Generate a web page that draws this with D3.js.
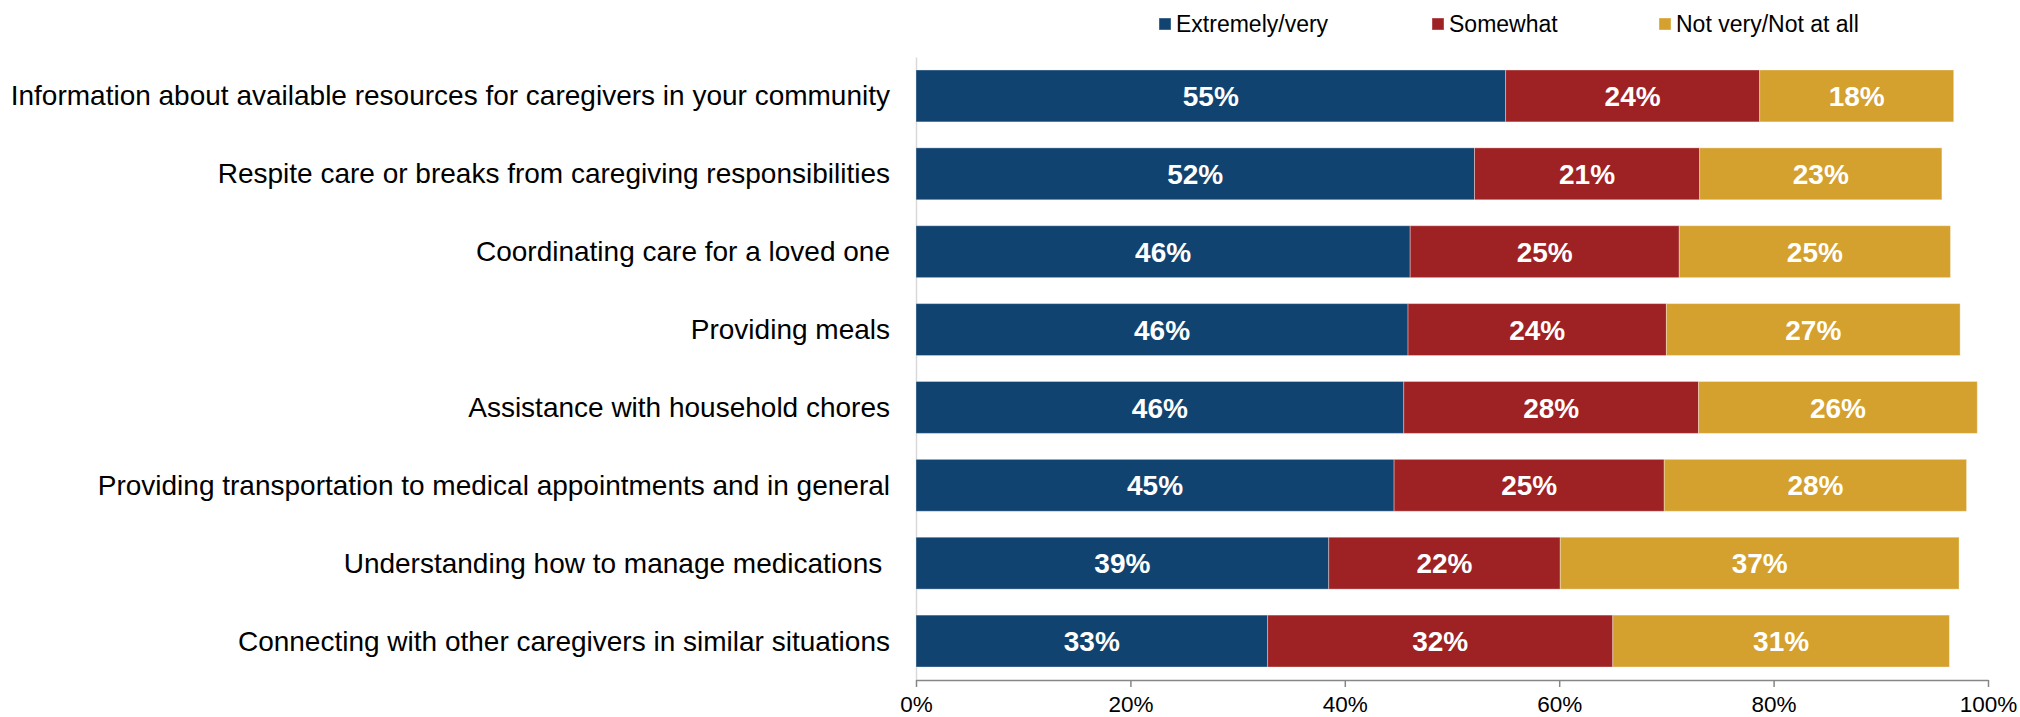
<!DOCTYPE html>
<html>
<head>
<meta charset="utf-8">
<script src="https://cdn.jsdelivr.net/npm/d3@7"></script>
<style>
  html, body { margin: 0; padding: 0; background: #fff; }
  svg { display: block; }
  text { font-family: "Liberation Sans", Arial, sans-serif; }
</style>
</head>
<body>
<svg id="chart" width="2020" height="717"></svg>
<script>
const categories = [
  "Information about available resources for caregivers in your community",
  "Respite care or breaks from caregiving responsibilities",
  "Coordinating care for a loved one",
  "Providing meals",
  "Assistance with household chores",
  "Providing transportation to medical appointments and in general",
  "Understanding how to manage medications ",
  "Connecting with other caregivers in similar situations"
];
const seriesNames = ["Extremely/very", "Somewhat", "Not very/Not at all"];
const extremelyVery = [55.0, 52.1, 46.1, 45.9, 45.5, 44.6, 38.5, 32.8];
const somewhat      = [23.7, 21.0, 25.1, 24.1, 27.5, 25.2, 21.6, 32.2];
const notVery       = [18.1, 22.6, 25.3, 27.4, 26.0, 28.2, 37.2, 31.4];
const tickValues = [0, 20, 40, 60, 80, 100];
const colors = ["#114371", "#9e2123", "#d4a02e"];

const svg = d3.select("#chart");
const x = d3.scaleLinear().domain([0, 100]).range([916, 1988]);
const y = d3.scaleBand().domain(categories).range([57, 680])
  .paddingInner(1/3).paddingOuter(1/6);

const rows = categories.map((c, i) => ({
  cat: c,
  "Extremely/very": extremelyVery[i],
  "Somewhat": somewhat[i],
  "Not very/Not at all": notVery[i]
}));
const stacked = d3.stack().keys(seriesNames)(rows);

// left axis line + category labels
const yAxis = svg.append("g")
  .attr("transform", `translate(${x(0)},0)`)
  .call(d3.axisLeft(y).tickSize(0).tickPadding(26));
yAxis.select(".domain").attr("stroke", "#d9d9d9").attr("stroke-width", 1.5);
yAxis.selectAll("text")
  .attr("font-size", 28).attr("fill", "#000")
  .attr("font-family", "'Liberation Sans', Arial, sans-serif")
  .style("white-space", "pre")
  .attr("dy", "0.34em");

// bars
const groups = svg.append("g").selectAll("g").data(stacked).join("g")
  .attr("fill", (d, i) => colors[i]);
groups.selectAll("rect").data(d => d).join("rect")
  .attr("x", d => x(d[0]))
  .attr("y", d => y(d.data.cat))
  .attr("width", d => x(d[1]) - x(d[0]))
  .attr("height", y.bandwidth())
  .attr("stroke", "rgba(255,255,255,0.35)")
  .attr("stroke-width", 1);

// data labels
groups.selectAll("text").data(d => d).join("text")
  .attr("x", d => (x(d[0]) + x(d[1])) / 2)
  .attr("y", d => y(d.data.cat) + y.bandwidth() / 2)
  .attr("dy", "0.36em")
  .attr("text-anchor", "middle")
  .attr("fill", "#fff")
  .attr("font-weight", "bold")
  .attr("font-size", 28)
  .text(d => Math.round(d[1] - d[0]) + "%");

// bottom axis
const xAxis = svg.append("g")
  .attr("transform", `translate(0,680)`)
  .call(d3.axisBottom(x).tickValues(tickValues).tickFormat(d => d + "%")
    .tickSizeInner(7).tickSizeOuter(0).tickPadding(9));
xAxis.select(".domain").attr("stroke", "#868686").attr("stroke-width", 1.5);
xAxis.selectAll(".tick line").attr("stroke", "#868686").attr("stroke-width", 1.5);
xAxis.selectAll("text")
  .attr("font-size", 22.5).attr("fill", "#000")
  .attr("font-family", "'Liberation Sans', Arial, sans-serif");

// legend
const legendX = [1159, 1432, 1659];
const legend = svg.append("g").selectAll("g").data(seriesNames).join("g")
  .attr("transform", (d, i) => `translate(${legendX[i]},18)`);
legend.append("rect")
  .attr("width", 12).attr("height", 12)
  .attr("fill", (d, i) => colors[i])
  .attr("stroke", "rgba(255,255,255,0.4)").attr("stroke-width", 1);
legend.append("text")
  .attr("x", 17).attr("y", 13.5)
  .attr("font-size", 23).attr("fill", "#000")
  .text(d => d);
</script>
</body>
</html>
